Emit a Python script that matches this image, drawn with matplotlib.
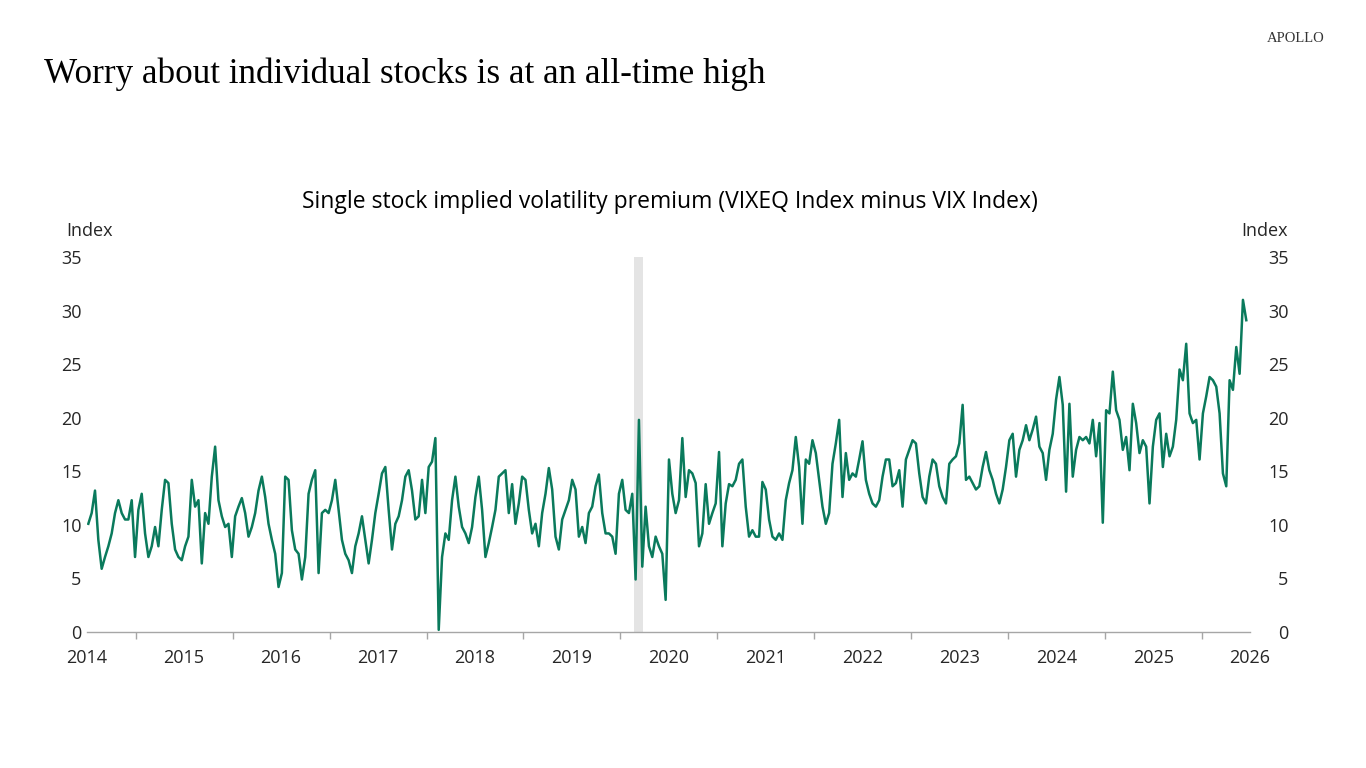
import numpy as np
import pandas as pd
import matplotlib
matplotlib.use('Agg')
from matplotlib import pyplot as plt
import matplotlib.dates as mdates
from matplotlib.ticker import FixedLocator, NullFormatter, FixedFormatter

######################## data ########################
# VIXEQ minus VIX, sampled roughly every 12-13 days, Jul 2014 -> Jun 2026
seg_a = [10.1, 11.1, 13.2, 8.6, 5.9, 7.0, 8.0, 9.2, 11.1, 12.3,
         11.1, 10.5, 10.5, 12.3, 7.0, 11.4, 12.9, 9.2, 7.0, 8.0,
         9.8, 8.0, 11.4, 14.2, 13.9, 10.1, 7.7, 7.0, 6.7, 8.0,
         8.9, 14.2, 11.7, 12.3, 6.4, 11.1, 10.1, 14.5, 17.3, 12.3,
         10.8, 9.8, 10.1, 7.0, 10.8, 11.7, 12.5, 11.1, 8.9, 9.8,
         11.1, 13.2, 14.5, 12.6, 10.1, 8.6, 7.3, 4.2, 5.5, 14.5,
         14.2]
seg_b = [9.5, 7.7, 7.3, 4.9, 7.0, 12.9, 14.2, 15.1, 5.5, 11.1,
         11.4, 11.1, 12.3, 14.2, 11.4, 8.6, 7.3, 6.7, 5.5, 8.0,
         9.2, 10.8, 8.6, 6.4, 8.6, 11.1, 12.9, 14.8, 15.4, 11.4,
         7.7, 10.1, 10.8, 12.3, 14.5, 15.1, 13.2, 10.5, 10.8, 14.2,
         11.1, 15.4, 15.9, 18.1, 0.2, 7.0, 9.2, 8.6, 12.3, 14.5,
         11.7, 9.8, 9.2, 8.3, 9.8, 12.6, 14.5, 11.4, 7.0, 8.3]
seg_c = [9.8, 11.4, 14.5, 14.8, 15.1, 11.1, 13.8, 10.1, 12.0, 14.5,
         14.2, 11.4, 9.2, 10.1, 8.0, 11.1, 12.9, 15.3, 13.3, 8.9,
         7.7, 10.5, 11.4, 12.3, 14.2, 13.3, 8.9, 9.8, 8.3, 11.1,
         11.7, 13.6, 14.7, 11.1, 9.2, 9.2, 8.9, 7.3, 12.9, 14.2,
         11.4, 11.1, 12.9, 4.9, 19.8, 6.1, 11.7, 8.0, 7.0, 8.9,
         8.0, 7.3, 3.0, 16.1, 12.9, 11.1, 12.3, 18.1, 12.6, 15.1]
seg_d = [14.8, 13.9, 8.0, 9.2, 13.8, 10.1, 11.1, 12.0, 16.8, 8.0,
         12.0, 13.8, 13.6, 14.2, 15.7, 16.1, 11.7, 8.9, 9.5, 8.9,
         8.9, 14.0, 13.3, 10.5, 8.9, 8.6, 9.2, 8.6, 12.3, 13.9,
         15.1, 18.2, 15.4, 10.1, 16.1, 15.7, 17.9, 16.7, 14.2, 11.7,
         10.1, 11.1, 15.7, 17.6, 19.8, 12.6, 16.7, 14.2, 14.8, 14.5,
         16.1, 17.8, 14.2, 12.9, 12.0, 11.7, 12.3, 14.5, 16.1, 16.1]
seg_e = [13.6, 13.9, 15.1, 11.7, 16.1, 17.0, 17.9, 17.6, 14.8, 12.6,
         12.0, 14.5, 16.1, 15.7, 13.6, 12.6, 12.0, 15.7, 16.1, 16.4,
         17.6, 21.2, 14.2, 14.5, 13.9, 13.3, 13.6, 15.4, 16.8, 15.1,
         14.2, 12.9, 12.0, 13.3, 15.4, 17.9, 18.5, 14.5, 17.0, 17.9,
         19.3, 17.9, 18.9, 20.1, 17.3, 16.7, 14.2, 17.0, 18.5, 21.7,
         23.8, 21.2, 13.1, 21.3, 14.5, 17.0, 18.2, 17.9, 18.2, 17.6]
seg_f = [19.8, 16.4, 19.5, 10.2, 20.7, 20.4, 24.3, 20.7, 19.8, 17.0,
         18.2, 15.1, 21.3, 19.5, 16.7, 17.9, 17.3, 12.0, 17.3, 19.8,
         20.4, 15.4, 18.5, 16.4, 17.3, 19.8, 24.5, 23.5, 26.9, 20.4,
         19.5, 19.8, 16.1, 20.4, 22.0, 23.8, 23.5, 22.9, 20.4, 14.8,
         13.6, 23.5, 22.6, 26.6, 24.1, 31.0, 29.1]

values = np.array(seg_a + seg_b + seg_c + seg_d + seg_e + seg_f)
dates = pd.date_range('2014-07-06', '2026-06-17', periods=len(values))

recession = ('2020-02-20', '2020-03-26')
year_labels = list(range(2014, 2027))
y_ticks = [0, 5, 10, 15, 20, 25, 30, 35]

line_color = '#0A7A5C'
text_color = '#262626'
tick_font = 'Open Sans'

######################## figure ########################
fig = plt.figure(figsize=(13.66, 7.68), dpi=100)
ax = fig.add_axes([87 / 1366, 1 - 632 / 768, (1250 - 87) / 1366, (632 - 257) / 768])

ax.axvspan(pd.Timestamp(recession[0]), pd.Timestamp(recession[1]),
           color='#E4E4E4', lw=0, zorder=0)
ax.plot(dates, values, color=line_color, lw=1.8, zorder=2, solid_joinstyle='round')

ax.set_ylim(0, 35)
ax.set_xlim(pd.Timestamp('2014-07-01'), pd.Timestamp('2026-07-01'))

for s in ['top', 'left', 'right']:
    ax.spines[s].set_visible(False)
ax.spines['bottom'].set_color('#A6A6A6')
ax.spines['bottom'].set_linewidth(1.0)

# year ticks at Jan 1, year labels in the middle of each year
ax.xaxis.set_major_locator(mdates.YearLocator(month=1, day=1))
ax.xaxis.set_major_formatter(NullFormatter())
ax.tick_params(axis='x', which='major', length=5, width=1, color='#A6A6A6', direction='out')
label_pos = [mdates.date2num(pd.Timestamp(f'{y}-07-01')) for y in year_labels]
ax.xaxis.set_minor_locator(FixedLocator(label_pos))
ax.xaxis.set_minor_formatter(FixedFormatter([str(y) for y in year_labels]))
ax.tick_params(axis='x', which='minor', length=0, pad=12, labelsize=13, labelcolor=text_color)
for lab in ax.xaxis.get_ticklabels(minor=True):
    lab.set_fontfamily(tick_font)

ax.set_yticks(y_ticks)
ax.tick_params(axis='y', length=0, labelsize=13, labelcolor=text_color,
               left=False, right=False, labelleft=True, labelright=True, pad=4)
# right-hand labels are right aligned in the original
for t in ax.yaxis.get_major_ticks():
    t.label1.set_fontfamily(tick_font)
    t.label2.set_fontfamily(tick_font)
    t.label2.set_horizontalalignment('right')
    t.label2.set_x(1.0 + 33 / 1163)

######################## texts ########################
fig.text(44 / 1366, 1 - 74 / 768, 'Worry about individual stocks is at an all-time high',
         fontfamily='Liberation Serif', fontsize=25.3, color='black', va='center', ha='left')
fig.text(1296 / 1366, 1 - 38 / 768, 'APOLLO', fontfamily='Liberation Serif',
         fontsize=10.5, color='#333333', va='center', ha='center')
fig.text(670 / 1366, 1 - 202 / 768,
         'Single stock implied volatility premium (VIXEQ Index minus VIX Index)',
         fontfamily=tick_font, fontsize=16.5, color='black', va='center', ha='center')
fig.text(66 / 1366, 1 - 231 / 768, 'Index', fontfamily=tick_font, fontsize=13,
         color=text_color, va='center', ha='left')
fig.text(1288 / 1366, 1 - 231 / 768, 'Index', fontfamily=tick_font, fontsize=13,
         color=text_color, va='center', ha='right')

fig.savefig('out.png', dpi=100, facecolor='white')
